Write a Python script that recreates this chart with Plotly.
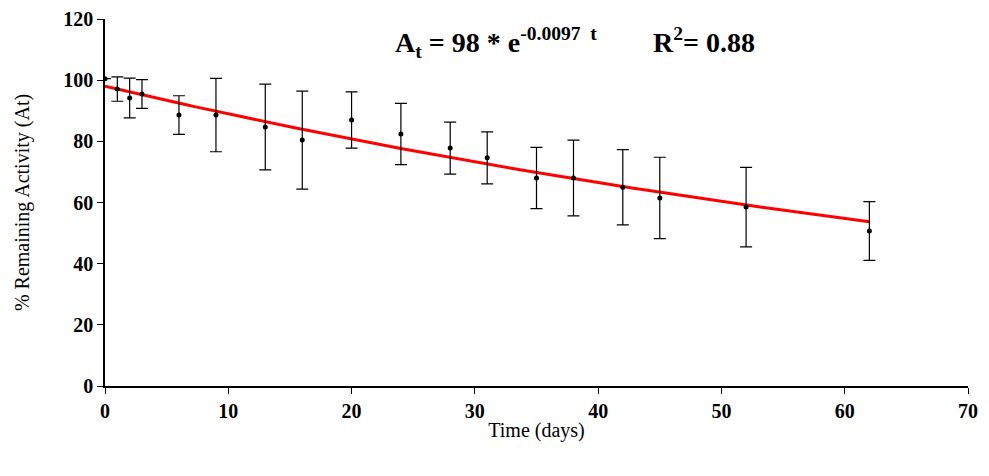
import plotly.graph_objects as go
import numpy as np

days = [0, 1, 2, 3, 6, 9, 13, 16, 20, 24, 28, 31, 35, 38, 42, 45, 52, 62]
activity = [100.5, 97.1, 94.2, 95.5, 88.6, 88.6, 84.7, 80.4, 87.0, 82.4, 77.8, 74.6, 68.0, 68.0, 65.0, 61.5, 58.5, 50.7]
err = [0, 4.0, 6.5, 4.7, 6.3, 12.0, 14.0, 16.0, 9.2, 10.0, 8.5, 8.5, 10.0, 12.4, 12.3, 13.3, 13.0, 9.6]
fit_a0, fit_k = 98, 0.0097

t = np.linspace(0, 62, 200)
fit = fit_a0 * np.exp(-fit_k * t)

fig = go.Figure()
fig.add_trace(go.Scatter(x=t, y=fit, mode="lines", line=dict(color="#ff0000", width=3), showlegend=False))
fig.add_trace(go.Scatter(x=days, y=activity, mode="markers", marker=dict(color="black", size=5),
                         error_y=dict(type="data", array=err, color="black", thickness=1.2, width=6),
                         showlegend=False))
fig.add_annotation(x=0.545, y=0.995, xref="paper", yref="paper", xanchor="center", yanchor="top", showarrow=False,
                   text="<b>A<sub>t</sub> = 98 * e<sup>-0.0097  t</sup>        R<sup>2</sup>= 0.88</b>",
                   font=dict(family="Liberation Serif", size=28, color="black"))
axis_common = dict(showline=True, linecolor="black", linewidth=1.5, ticks="outside", ticklen=6,
                   tickcolor="black", showgrid=False, zeroline=False, automargin=False,
                   tickfont=dict(family="Liberation Serif", size=20, color="black", weight="bold"))
fig.update_xaxes(range=[0, 70], dtick=10, title=dict(text="Time (days)", standoff=2,
                 font=dict(family="Liberation Serif", size=20, color="black")), **axis_common)
fig.update_yaxes(range=[0, 120], dtick=20, title=dict(text="% Remaining Activity (At)", standoff=28,
                 font=dict(family="Liberation Serif", size=20, color="black")), **axis_common)
fig.update_layout(width=989, height=476, plot_bgcolor="white", paper_bgcolor="white",
                  margin=dict(l=97, r=29, t=11, b=98))
fig.write_html("out.html")
